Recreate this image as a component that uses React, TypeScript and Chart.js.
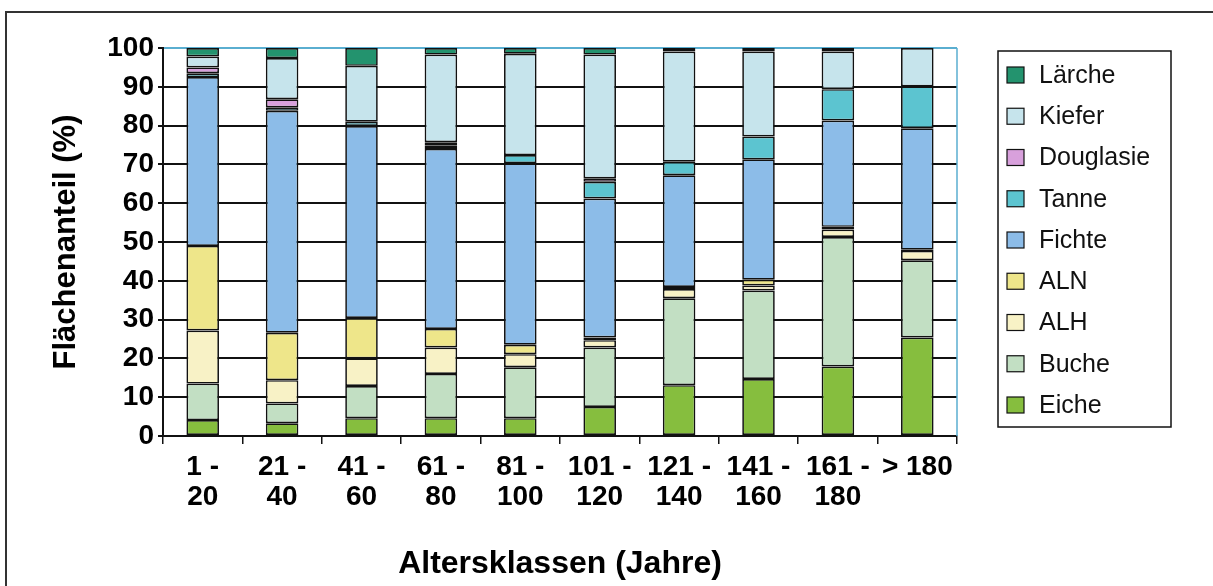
import React, { useEffect, useRef } from "react";
import { Chart, registerables } from "chart.js";

Chart.register(...registerables);

const categories: string[][] = [
  ["1 -", "20"], ["21 -", "40"], ["41 -", "60"], ["61 -", "80"], ["81 -", "100"],
  ["101 -", "120"], ["121 -", "140"], ["141 -", "160"], ["161 -", "180"], ["> 180"],
];

const eiche = [4.1, 3.3, 4.6, 4.6, 4.6, 7.5, 13.1, 14.7, 17.9, 25.4];
const buche = [9.4, 5.1, 8.3, 11.4, 13.1, 15.3, 22.4, 22.8, 33.4, 19.9];
const alh = [13.7, 6.0, 7.1, 6.8, 3.4, 1.9, 2.4, 1.3, 1.9, 2.4];
const aln = [21.8, 12.2, 10.4, 4.8, 2.4, 0.7, 0.5, 1.5, 0.7, 0.3];
const fichte = [43.5, 57.2, 49.5, 46.4, 46.8, 35.8, 28.8, 31.0, 27.4, 31.3];
const tanne = [1.0, 0.9, 1.1, 0.8, 2.1, 4.3, 3.5, 5.9, 8.1, 10.8];
const douglasie = [1.5, 2.1, 0, 0.9, 0, 0.9, 0, 0, 0, 0];
const kiefer = [2.8, 10.6, 14.4, 22.6, 26.1, 31.9, 28.4, 21.9, 9.7, 9.9];
const laerche = [2.2, 2.6, 4.6, 1.7, 1.5, 1.7, 0.9, 0.9, 0.9, 0];

const yTicks = [0, 10, 20, 30, 40, 50, 60, 70, 80, 90, 100];

const FONT = "'Liberation Sans', Arial, sans-serif";

const frameAndLegend = {
  id: "frameAndLegend",
  beforeDatasetsDraw(chart: any) {
    const { ctx, chartArea } = chart;
    ctx.save();
    ctx.strokeStyle = "#5aaed0";
    ctx.lineWidth = 1.5;
    ctx.beginPath();
    ctx.moveTo(chartArea.right, chartArea.top);
    ctx.lineTo(chartArea.right, chartArea.bottom);
    ctx.stroke();
    ctx.restore();
  },
  afterDraw(chart: any) {
    const { ctx, width, height } = chart;
    ctx.save();
    ctx.strokeStyle = "#333";
    ctx.lineWidth = 2;
    ctx.beginPath();
    ctx.moveTo(6, height);
    ctx.lineTo(6, 12);
    ctx.lineTo(width, 12);
    ctx.stroke();

    ctx.strokeStyle = "#111";
    ctx.lineWidth = 1.5;
    ctx.strokeRect(998, 51, 173, 376);

    const ds = chart.data.datasets.slice().reverse();
    ctx.font = `25px ${FONT}`;
    ctx.textBaseline = "middle";
    ctx.textAlign = "left";
    ds.forEach((d: any, i: number) => {
      const cy = 75 + i * 41.25;
      ctx.fillStyle = d.backgroundColor;
      ctx.fillRect(1007, cy - 8, 17, 16);
      ctx.strokeStyle = "#111";
      ctx.lineWidth = 1.2;
      ctx.strokeRect(1007, cy - 8, 17, 16);
      ctx.fillStyle = "#111";
      ctx.fillText(d.label, 1039, cy + 1);
    });
    ctx.restore();
  },
};

export default function App() {
  const ref = useRef<HTMLCanvasElement | null>(null);

  useEffect(() => {
    if (!ref.current) return;
    const mk = (label: string, data: number[], color: string) => ({
      label,
      data,
      backgroundColor: color,
      borderColor: "#111",
      borderWidth: 1.7,
      borderSkipped: false,
      barPercentage: 0.41,
      categoryPercentage: 1,
    });
    const chart = new Chart(ref.current, {
      type: "bar",
      data: {
        labels: categories,
        datasets: [
          mk("Eiche", eiche, "#86be3e"),
          mk("Buche", buche, "#c2dfc3"),
          mk("ALH", alh, "#f8f2c6"),
          mk("ALN", aln, "#eee68a"),
          mk("Fichte", fichte, "#8cbce8"),
          mk("Tanne", tanne, "#5cc4d0"),
          mk("Douglasie", douglasie, "#d8a0dc"),
          mk("Kiefer", kiefer, "#c6e4ec"),
          mk("Lärche", laerche, "#23936e"),
        ] as any,
      },
      options: {
        responsive: false,
        animation: false,
        layout: { padding: { top: 48, right: 256, left: 0, bottom: 0 } },
        plugins: {
          legend: { display: false },
          tooltip: { enabled: false },
        },
        scales: {
          x: {
            stacked: true,
            afterFit: (s: any) => { s.height = 150; },
            grid: {
              display: true,
              offset: true,
              drawOnChartArea: false,
              drawTicks: true,
              tickLength: 8,
              color: "#111",
              lineWidth: 1.5,
            },
            border: { display: true, color: "#111", width: 2 },
            ticks: {
              color: "#000",
              padding: 9,
              maxRotation: 0,
              autoSkip: false,
              font: { family: FONT, size: 28, weight: "bold", lineHeight: 1.05 },
            },
            title: {
              display: true,
              text: "Altersklassen (Jahre)",
              color: "#000",
              padding: { top: 0, bottom: 3 },
              font: { family: FONT, size: 32, weight: "bold", lineHeight: 1.2 },
            },
          },
          y: {
            stacked: true,
            min: 0,
            max: 100,
            afterFit: (s: any) => { s.width = 163; },
            afterBuildTicks: (s: any) => { s.ticks = yTicks.map((v) => ({ value: v })); },
            grid: {
              color: (c: any) => (c.tick && c.tick.value === 100 ? "#5aaed0" : "#111"),
              tickColor: "#111",
              lineWidth: 2,
              drawTicks: true,
              tickLength: 5,
            },
            border: { display: true, color: "#111", width: 2 },
            ticks: {
              color: "#000",
              padding: 4,
              font: { family: FONT, size: 28, weight: "bold" },
            },
            title: {
              display: true,
              text: "Flächenanteil (%)",
              color: "#000",
              padding: { top: 48, bottom: 0 },
              font: { family: FONT, size: 31, weight: "bold", lineHeight: 1.2 },
            },
          },
        },
      },
      plugins: [frameAndLegend],
    } as any);
    return () => chart.destroy();
  }, []);

  return (
    <div style={{ position: "absolute", left: 0, top: 0, width: 1213, height: 586, background: "#fff" }}>
      <canvas ref={ref} width={1213} height={586} style={{ display: "block" }} />
    </div>
  );
}
